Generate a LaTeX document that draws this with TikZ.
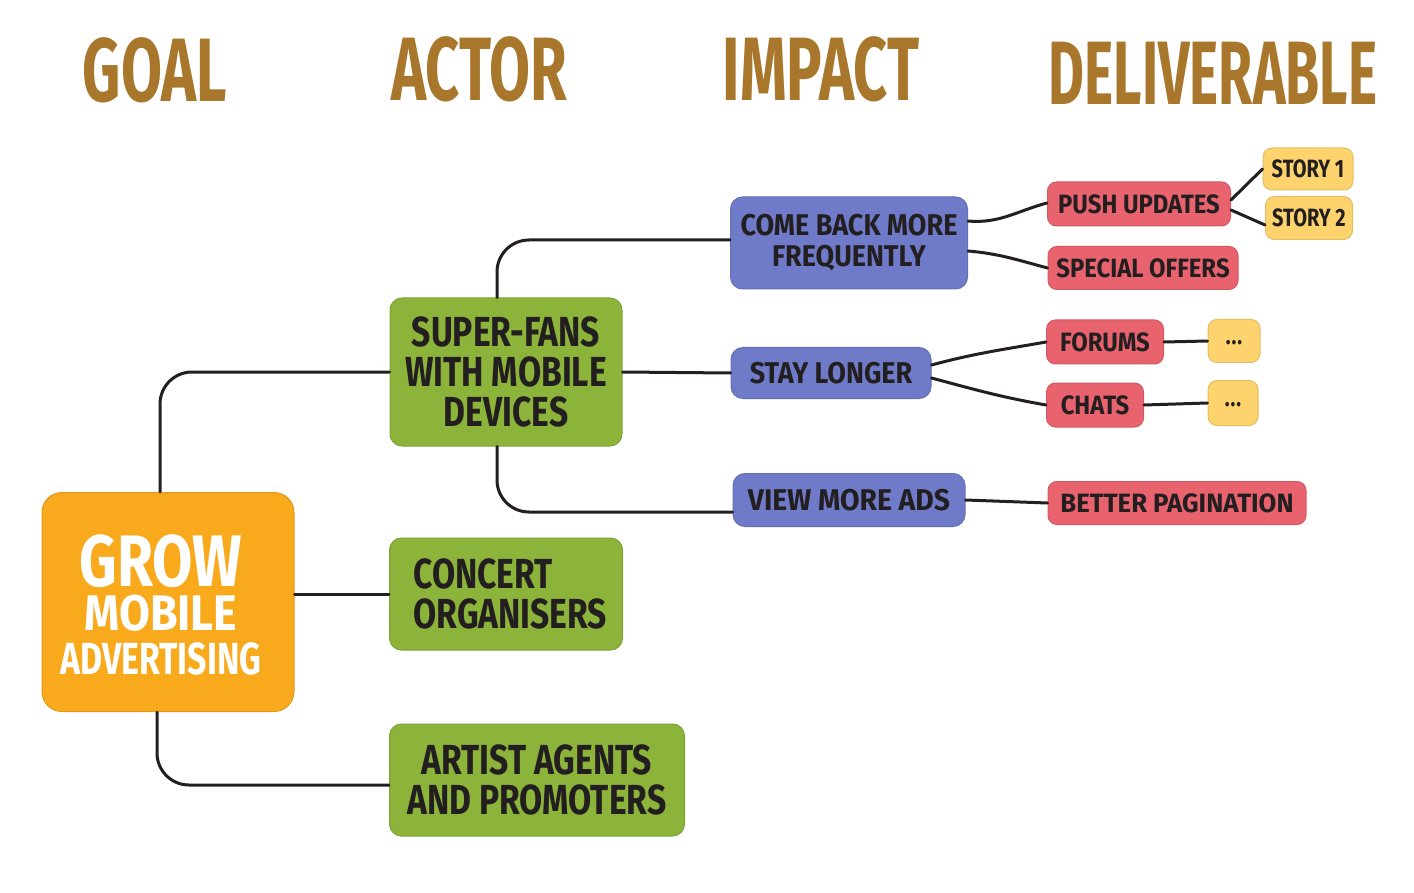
\documentclass[tikz,border=0pt]{standalone}
\usepackage{fontspec}
\setmainfont{Fira Sans}[FakeStretch=0.8]
\newfontfamily\headfont{Fira Sans}[FakeStretch=0.66]
\newfontfamily\impfont{Fira Sans}[FakeStretch=0.9]
\definecolor{ink}{HTML}{231F20}
\definecolor{brown}{HTML}{A8772C}
\definecolor{goalc}{HTML}{F8A91C}
\definecolor{actorc}{HTML}{8CB33A}
\definecolor{impactc}{HTML}{6F7BC9}
\definecolor{delivc}{HTML}{E9636F}
\definecolor{storyc}{HTML}{FCD36D}
\tikzset{
  head/.style={text=brown, font=\headfont\bfseries\fontsize{90}{90}\selectfont, inner sep=0, anchor=center},
  box/.style={rounded corners=12pt, inner sep=0, align=center, text=ink},
  goaltext/.style={text=white, inner sep=0, align=center, font=\bfseries\fontsize{45}{44}\selectfont},
  goalbox/.style={box, fill=goalc, draw=goalc!90!black, line width=1pt, text=white, rounded corners=20pt},
  actorbox/.style={box, fill=actorc, draw=actorc!90!black, line width=1pt, font=\bfseries\fontsize{42}{40}\selectfont},
  impactbox/.style={box, fill=impactc, draw=impactc!90!black, line width=1pt, font=\impfont\bfseries\fontsize{30}{31}\selectfont},
  delivbox/.style={box, fill=delivc, draw=delivc!90!black, line width=1pt, rounded corners=9pt, font=\impfont\bfseries\fontsize{26.5}{28}\selectfont},
  storybox/.style={box, fill=storyc, draw=storyc!90!black, line width=1pt, rounded corners=9pt, font=\bfseries\fontsize{25}{25}\selectfont},
  link/.style={draw=ink, line width=3pt, line cap=round, rounded corners=32pt}
}
\begin{document}
\begin{tikzpicture}[x=1pt,y=-1pt]
\useasboundingbox[fill=white] (0,0) rectangle (1414,893);
% headers
\node[head] (hg) at (155,70) {GOAL};
\node[head] (ha) at (479,69) {ACTOR};
\node[head] (hi) at (821,69) {IMPACT};
\node[head] (hd) at (1213,73) {\scalebox{0.93}[1]{DELIVERABLE}};
% goal
\node[goalbox, minimum width=252pt, minimum height=219pt] (goal) at (168,602) {};
\node[goaltext] (gt) at (161,605) {{\fontsize{73}{44}\selectfont GROW}\\{\fontsize{50}{44}\selectfont\scalebox{1.12}[1]{MOBILE}}\\\scalebox{0.94}[1]{ADVERTISING}};
% actors
\node[actorbox, minimum width=232pt, minimum height=148pt] (sf) at (506,372) {SUPER-FANS\\WITH MOBILE\\DEVICES};
\node[actorbox, minimum width=233pt, minimum height=112pt] (co) at (506,594) {};
\node[actorbox, fill=none, draw=none, align=left, anchor=west] (cot) at (413,594) {CONCERT\\ORGANISERS};
\node[actorbox, minimum width=295pt, minimum height=112pt] (aa) at (537,780) {ARTIST AGENTS\\AND PROMOTERS};
% impacts
\node[impactbox, minimum width=237pt, minimum height=92pt] (cb) at (849,243) {COME BACK MORE\\FREQUENTLY};
\node[impactbox, minimum width=200pt, minimum height=51pt] (sl) at (831,373) {STAY LONGER};
\node[impactbox, minimum width=232pt, minimum height=53pt] (vm) at (849,500) {\scalebox{1.05}[1]{VIEW MORE ADS}};
% deliverables
\node[delivbox, minimum width=183pt, minimum height=44pt] (pu) at (1139,204) {PUSH UPDATES};
\node[delivbox, minimum width=190pt, minimum height=43pt] (so) at (1143,268) {SPECIAL OFFERS};
\node[delivbox, minimum width=117pt, minimum height=44pt] (fo) at (1105,342) {FORUMS};
\node[delivbox, minimum width=97pt, minimum height=44pt] (ch) at (1095,405) {CHATS};
\node[delivbox, minimum width=258pt, minimum height=43pt] (bp) at (1177,503) {\scalebox{1.08}[1]{BETTER PAGINATION}};
% stories
\node[storybox, minimum width=90pt, minimum height=42pt] (s1) at (1308,169) {STORY 1};
\node[storybox, minimum width=87pt, minimum height=43pt] (s2) at (1309,218) {STORY 2};
\node[storybox, minimum width=52pt, minimum height=43pt] (d1) at (1234,341) {\raisebox{-8pt}{.\kern1pt.\kern1pt.}};
\node[storybox, minimum width=50pt, minimum height=45pt] (d2) at (1233,403) {\raisebox{-8pt}{.\kern1pt.\kern1pt.}};
% connectors
\draw[link] ([xshift=-8pt]goal.north) |- (sf.west);
\draw[link] (goal.east |- co.west) -- (co.west);
\draw[link] ([xshift=-11pt]goal.south) |- ([yshift=-5pt]aa.west);
\draw[link] ([xshift=-9pt]sf.north) |- ([yshift=3pt]cb.west);
\draw[link] (sf.east) -- (sl.west);
\draw[link] ([xshift=-9pt]sf.south) |- ([yshift=-12pt]vm.west);
\draw[link] ([yshift=22pt]cb.east) to[out=-5,in=195] ([yshift=1pt]pu.west);
\draw[link] ([yshift=-8pt]cb.east) to[out=-5,in=165] (so.west);
\draw[link] ([yshift=8pt]sl.east) to[out=15,in=190] (fo.west);
\draw[link] ([yshift=-5pt]sl.east) to[out=-15,in=170] (ch.west);
\draw[link] (vm.east) -- (bp.west);
\draw[link] ([yshift=4pt]pu.east) -- (s1.west);
\draw[link] ([yshift=-6pt]pu.east) -- ([yshift=-7pt]s2.west);
\draw[link] (fo.east) -- (d1.west);
\draw[link] (ch.east) -- (d2.west);
\end{tikzpicture}
\end{document}
